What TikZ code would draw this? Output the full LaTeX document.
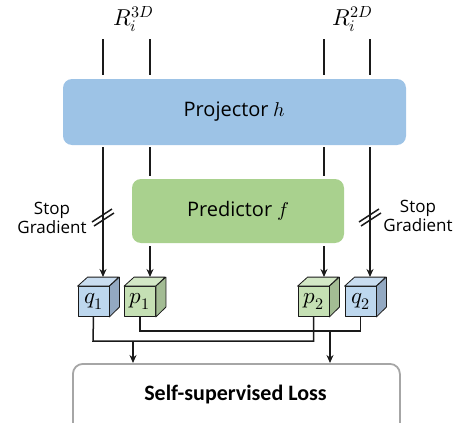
\documentclass[tikz,border=0pt]{standalone}
\usepackage{fontspec}
\usepackage{unicode-math}
\setmainfont{Open Sans}
\setmathfont{Latin Modern Math}
\newfontfamily\lossfont{Carlito}
\usetikzlibrary{arrows.meta}
\definecolor{projblue}{HTML}{9DC3E6}
\definecolor{predgreen}{HTML}{A9D18E}
\definecolor{qfront}{HTML}{BDD7EE}
\definecolor{qtop}{HTML}{C9DDF0}
\definecolor{qside}{HTML}{93A9C2}
\definecolor{pfront}{HTML}{C5E0B4}
\definecolor{ptop}{HTML}{D3E8C6}
\definecolor{pside}{HTML}{A3BC94}
\definecolor{lossgray}{HTML}{A6A6A6}
\definecolor{linegray}{HTML}{1A1A1A}
\tikzset{
  blockbox/.style={rounded corners=9pt, inner sep=0pt, font=\fontsize{20}{24}\selectfont},
  face/.style={draw=linegray, line width=0.8pt, line join=round},
  conn/.style={draw=linegray, line width=1.5pt},
  arr/.style={conn, -{Stealth[length=8pt,width=7pt]}},
  sglabel/.style={font=\fontsize{17}{19}\selectfont, align=center, inner sep=0pt},
  mathlabel/.style={font=\fontsize{23}{25}\selectfont, inner sep=0pt},
}
\newcommand{\mycube}[6]{% name, x, y(center), front, top, side
  \node[face, fill=#4, minimum width=31pt, minimum height=30pt, inner sep=0pt,
        font=\fontsize{23}{24}\selectfont] (#1) at (#2,#3) {$#6$};
}
\begin{document}
\begin{tikzpicture}[x=1pt,y=-1pt]
\useasboundingbox (0,0) rectangle (464,423);
% loss box (clipped at bottom)
\begin{scope}
\clip (0,0) rectangle (464,423);
\node[draw=lossgray, line width=1.8pt, rounded corners=10pt, fill=white,
      minimum width=327pt, minimum height=80pt, anchor=north west, inner sep=0pt] (loss) at (72,363) {};
\end{scope}
\node[font=\lossfont\bfseries\fontsize{22}{24}\selectfont] (losstext) at (235.5,395) {Self-supervised Loss};

% projector and predictor
\node[blockbox, fill=projblue, minimum width=343pt, minimum height=66pt] (proj) at (234.5,112) {Projector $h$};
\node[blockbox, fill=predgreen, minimum width=212pt, minimum height=64pt] (pred) at (238,211) {Predictor $f$};

% inputs
\node[mathlabel] (r3d) at (133,19) {$R_i^{3D}$};
\node[mathlabel] (r2d) at (352,19) {$R_i^{2D}$};
\coordinate (a1) at (103,39);
\coordinate (a2) at (150,39);
\coordinate (a3) at (324,39);
\coordinate (a4) at (370,39);
\foreach \c in {a1,a2,a3,a4}
  \draw[conn, shorten >=4pt] (\c) -- (\c |- proj.north);

% cubes
\mycube{q1}{93.5}{301.5}{qfront}{qtop}{q_1}
\mycube{p1}{140}{301.5}{pfront}{ptop}{p_1}
\mycube{p2}{313.5}{301.5}{pfront}{ptop}{p_2}
\mycube{q2}{360.5}{301.5}{qfront}{qtop}{q_2}
\foreach \n/\t/\s in {q1/qtop/qside, p1/ptop/pside, p2/ptop/pside, q2/qtop/qside}{
  \draw[face, fill=\t] (\n.north west) -- ++(10,-9) -- ++(31,0) -- (\n.north east) -- cycle;
  \draw[face, fill=\s] (\n.north east) -- ++(10,-9) -- ++(0,30) -- (\n.south east) -- cycle;
}
\coordinate (q1t) at (103,277);
\coordinate (p1t) at (150,277);
\coordinate (p2t) at (324,277);
\coordinate (q2t) at (370,277);

% projector to cubes
\draw[arr, shorten <=2pt] (a1 |- proj.south) -- (q1t);
\draw[arr, shorten <=2pt] (a4 |- proj.south) -- (q2t);
\draw[conn, shorten <=2pt, shorten >=3pt] (a2 |- proj.south) -- (a2 |- pred.north);
\draw[conn, shorten <=2pt, shorten >=3pt] (a3 |- proj.south) -- (a3 |- pred.north);
\draw[arr, shorten <=3pt] (a2 |- pred.south) -- (p1t);
\draw[arr, shorten <=3pt] (a3 |- pred.south) -- (p2t);

% stop gradient marks
\coordinate (sg1) at (103,218);
\coordinate (sg2) at (370,218);
\foreach \s in {sg1,sg2}{
  \draw[conn] ([shift={(-11,4)}]\s) -- ++(20,-13);
  \draw[conn] ([shift={(-9,8)}]\s) -- ++(20,-13);
}
\node[sglabel] (sgl) at (52,218) {Stop\\Gradient};
\node[sglabel] (sgr) at (418,216) {Stop\\Gradient};

% cubes to loss
\coordinate (j1) at (93,341);
\coordinate (j2) at (140,331);
\draw[conn] (q1.south) -- (j1) -- (j1 -| p2.south) -- (p2.south);
\draw[conn] (p1.south) -- (j2) -- (j2 -| q2.south) -- (q2.south);
\coordinate (m1) at (133,341);
\coordinate (m2) at (330,331);
\draw[arr] (m1) -- (m1 |- loss.north);
\draw[arr] (m2) -- (m2 |- loss.north);
\end{tikzpicture}
\end{document}
